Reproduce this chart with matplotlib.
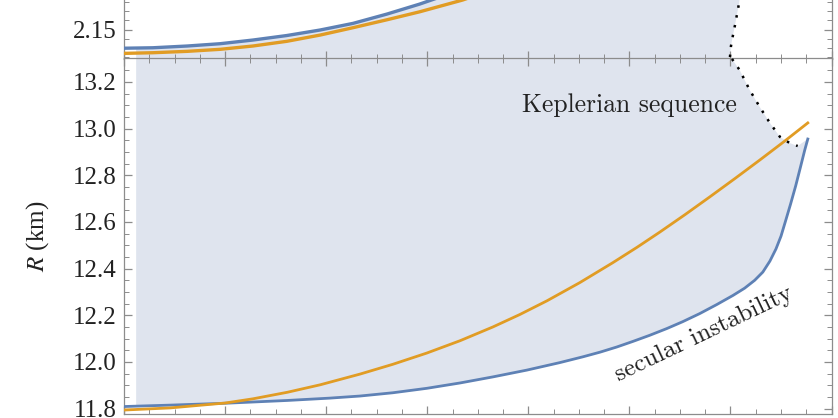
import numpy as np
import matplotlib.pyplot as plt
from matplotlib.ticker import MultipleLocator, FormatStrFormatter, FuncFormatter

plt.rcParams['font.family'] = ['Liberation Serif', 'DejaVu Serif']
plt.rcParams['mathtext.fontset'] = 'stix'

# top panel (mass), only its lower strip is visible
top_blue_x = [0, 57, 125, 190, 255, 322, 388, 453, 520, 585, 625, 684]
top_blue_y = [2.1297, 2.1302, 2.1321, 2.1346, 2.1386, 2.1435, 2.1495,
              2.1567, 2.1668, 2.1777, 2.1853, 2.1984]
top_orange_x = [0, 57, 125, 190, 255, 322, 388, 453, 520, 585, 670, 744]
top_orange_y = [2.1241, 2.1248, 2.1263, 2.1285, 2.1321, 2.1372, 2.1440,
                2.1520, 2.1606, 2.1693, 2.1821, 2.1962]
top_kep_x = [1199, 1201, 1205, 1209, 1213, 1217, 1222]
top_kep_y = [2.1201, 2.1321, 2.1440, 2.1549, 2.1668, 2.1788, 2.1984]

# bottom panel, R (km)
blue_x = [0, 91, 200, 323, 407, 467, 532, 599, 665, 730, 797, 862, 908, 942,
          975, 1007, 1040, 1074, 1105, 1139, 1173, 1205, 1228, 1248, 1264,
          1278, 1290, 1300, 1309, 1319, 1329, 1339, 1347, 1353]
blue_y = [11.809, 11.815, 11.823, 11.835, 11.845, 11.854, 11.868, 11.887,
          11.910, 11.936, 11.965, 11.997, 12.022, 12.042, 12.064, 12.088,
          12.114, 12.143, 12.172, 12.207, 12.246, 12.285, 12.316, 12.350,
          12.385, 12.432, 12.484, 12.539, 12.604, 12.677, 12.754, 12.839,
          12.908, 12.955]
orange_x = [0, 91, 200, 255, 323, 388, 467, 532, 599, 665, 730, 783, 837,
            902, 967, 1015, 1060, 1110, 1159, 1209, 1258, 1306, 1353]
orange_y = [11.794, 11.803, 11.824, 11.842, 11.870, 11.902, 11.948, 11.990,
            12.038, 12.091, 12.150, 12.203, 12.262, 12.340, 12.425, 12.491,
            12.556, 12.631, 12.707, 12.786, 12.865, 12.944, 13.024]
kep_x = [1203, 1218, 1238, 1258, 1278, 1298, 1317, 1333]
kep_y = [13.298, 13.251, 13.165, 13.092, 13.024, 12.964, 12.938, 12.925]

fill_x0 = 24

BLUE = '#5e81b5'
ORANGE = '#e19c24'
FILL = '#dfe4ee'
GREY = '#8c8c8c'


def style(ax):
    for s in ax.spines.values():
        s.set_color(GREY)
        s.set_linewidth(0.9)
    ax.set_xlim(0, 1400)
    ax.xaxis.set_major_locator(MultipleLocator(200))
    ax.xaxis.set_minor_locator(MultipleLocator(50))
    ax.tick_params(which='both', direction='in', top=True, right=True,
                   color=GREY, labelsize=18, labelcolor='#222222', pad=5,
                   labelbottom=False)
    ax.tick_params(which='major', length=5.5, width=0.9)
    ax.tick_params(which='minor', length=3.5, width=0.7)


fig = plt.figure(figsize=(8.38, 4.18), dpi=100)
ax_top = fig.add_axes([0.148, 0.8600, 0.8443, 0.4785])
ax_bot = fig.add_axes([0.148, 0.00957, 0.8443, 0.8505])

# --- top panel
style(ax_top)
ax_top.set_ylim(2.1185, 2.336)
ax_top.yaxis.set_major_locator(MultipleLocator(0.05))
ax_top.yaxis.set_minor_locator(MultipleLocator(0.01))
# only the 2.15 label falls inside the visible strip
ax_top.yaxis.set_major_formatter(
    FuncFormatter(lambda v, p: '%.2f' % v if v < 2.17 else ''))

tb_x = np.array(top_blue_x, float)
tb_y = np.array(top_blue_y, float)
y0 = np.interp(fill_x0, tb_x, tb_y)
keep = tb_x > fill_x0
px = np.concatenate([[fill_x0, top_kep_x[0]], top_kep_x,
                     [top_kep_x[-1], tb_x[-1]], tb_x[keep][::-1], [fill_x0]])
py = np.concatenate([[2.10, 2.10], top_kep_y, [2.30, 2.30],
                     tb_y[keep][::-1], [y0]])
ax_top.fill(px, py, color=FILL, lw=0, zorder=0)
ax_top.plot(top_blue_x, top_blue_y, color=BLUE, lw=2.4, zorder=3,
            solid_joinstyle='round')
ax_top.plot(top_orange_x, top_orange_y, color=ORANGE, lw=2.4, zorder=3,
            solid_joinstyle='round')
ax_top.plot(top_kep_x, top_kep_y, color='black', lw=1.8,
            linestyle=(0, (1, 3)), zorder=4)

# --- bottom panel
style(ax_bot)
ax_bot.set_ylim(11.777, 13.30)
ax_bot.yaxis.set_major_locator(MultipleLocator(0.2))
ax_bot.yaxis.set_minor_locator(MultipleLocator(0.05))
ax_bot.yaxis.set_major_formatter(FormatStrFormatter('%.1f'))

b_x = np.array(blue_x, float)
b_y = np.array(blue_y, float)
y0 = np.interp(fill_x0, b_x, b_y)
keep = b_x > fill_x0
px = np.concatenate([[fill_x0], b_x[keep], kep_x[::-1], [kep_x[0], fill_x0]])
py = np.concatenate([[y0], b_y[keep], kep_y[::-1], [13.4, 13.4]])
ax_bot.fill(px, py, color=FILL, lw=0, zorder=0)
ax_bot.plot(blue_x, blue_y, color=BLUE, lw=2.0, zorder=3,
            solid_joinstyle='round')
ax_bot.plot(orange_x, orange_y, color=ORANGE, lw=2.0, zorder=3,
            solid_joinstyle='round')
ax_bot.plot(kep_x, kep_y, color='black', lw=1.8,
            linestyle=(0, (1, 3)), zorder=4)

ax_bot.text(1000, 13.10, 'Keplerian sequence', family='cmr10', fontsize=18.5,
            ha='center', va='center', color='#222222')
ax_bot.text(1148, 12.12, 'secular instability', family='cmr10', fontsize=18,
            ha='center', va='center', rotation=25.5, color='#222222')

fig.text(38 / 838, 1 - 236.5 / 418, r'$R$ (km)', fontsize=18, rotation=90,
         ha='center', va='center', color='#222222')

fig.savefig('out.png', dpi=100)
